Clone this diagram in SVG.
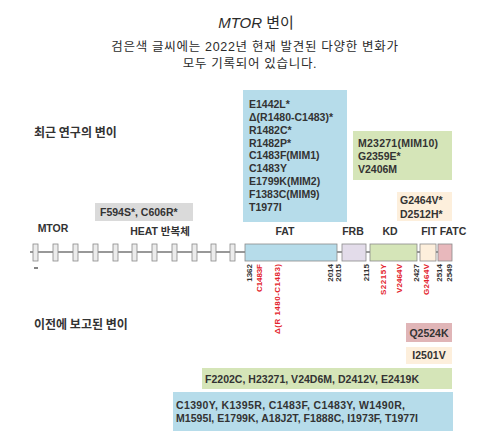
<svg xmlns="http://www.w3.org/2000/svg" width="499" height="444" viewBox="0 0 499 444">
<style>
.k{font-family:"Liberation Sans","Noto Sans CJK KR",sans-serif;fill:#2b2b2b}
.m{font-family:"Liberation Sans","Noto Sans CJK KR",sans-serif;font-weight:bold;font-size:10.5px;fill:#333}
.h{font-family:"Noto Sans CJK KR",sans-serif;font-weight:bold;font-size:12px;fill:#333}
.d{font-family:"Liberation Sans","Noto Sans CJK KR",sans-serif;font-weight:bold;font-size:10.5px;fill:#333;text-anchor:middle}
.n{font-family:"Liberation Sans",sans-serif;font-weight:bold;font-size:8px;fill:#333;text-anchor:end}
.r{font-family:"Liberation Sans",sans-serif;font-weight:bold;font-size:8px;fill:#e3232c;text-anchor:end}
.rep{fill:#ececec;stroke:#8a8a8a;stroke-width:0.8}
.dom{stroke:#8a8a8a;stroke-width:0.8}
</style>
<rect width="499" height="444" fill="#fff"/>
<g id="title">
<text x="256" y="28" text-anchor="middle" class="k" font-size="15"><tspan font-style="italic">MTOR</tspan> 변이</text>
<text x="255" y="51" text-anchor="middle" class="k" font-size="12.5" letter-spacing="0.7">검은색 글씨에는 2022년 현재 발견된 다양한 변화가</text>
<text x="250" y="67.5" text-anchor="middle" class="k" font-size="12.5" letter-spacing="0.7">모두 기록되어 있습니다.</text>
</g>
<g id="recent-label"><text x="34" y="137" class="h">최근 연구의 변이</text></g>
<g id="prior-label"><text x="34" y="329" class="h">이전에 보고된 변이</text></g>
<g id="recent-fat">
<rect x="243" y="90" width="104" height="132" fill="#b6dcea"/>
<text class="m" x="249" y="108">E1442L*</text>
<text class="m" x="249" y="121">Δ(R1480-C1483)*</text>
<text class="m" x="249" y="134">R1482C*</text>
<text class="m" x="249" y="147">R1482P*</text>
<text class="m" x="249" y="159">C1483F(MIM1)</text>
<text class="m" x="249" y="172">C1483Y</text>
<text class="m" x="249" y="185">E1799K(MIM2)</text>
<text class="m" x="249" y="198">F1383C(MIM9)</text>
<text class="m" x="249" y="211">T1977I</text>
</g>
<g id="recent-kd">
<rect x="353" y="131" width="99" height="49" fill="#d5e5b8"/>
<text class="m" x="358" y="147" textLength="80" lengthAdjust="spacing">M23271(MIM10)</text>
<text class="m" x="358" y="160">G2359E*</text>
<text class="m" x="358" y="173">V2406M</text>
</g>
<g id="recent-fit">
<rect x="397" y="192" width="55" height="29" fill="#fdefdc"/>
<text class="m" x="400" y="204">G2464V*</text>
<text class="m" x="400" y="218">D2512H*</text>
</g>
<g id="recent-heat">
<rect x="95" y="203" width="98" height="18" fill="#dadada"/>
<text class="m" x="100" y="216">F594S*, C606R*</text>
</g>
<g id="labels">
<text class="d" x="53" y="232">MTOR</text>
<text class="d" x="160" y="235">HEAT 반복체</text>
<text class="d" x="285" y="235">FAT</text>
<text class="d" x="353" y="235">FRB</text>
<text class="d" x="390" y="235">KD</text>
<text class="d" x="429" y="235">FIT</text>
<text class="d" x="453" y="235">FATC</text>
</g>
<g id="gene">
<line x1="30" y1="252" x2="452" y2="252" stroke="#333" stroke-width="1.2"/>
<line x1="34" y1="268" x2="38" y2="268" stroke="#333" stroke-width="1.2"/>
<rect class="rep" x="33" y="244" width="5" height="17"/>
<rect class="rep" x="53" y="244" width="5" height="17"/>
<rect class="rep" x="73" y="244" width="5" height="17"/>
<rect class="rep" x="93" y="244" width="5" height="17"/>
<rect class="rep" x="113" y="244" width="5" height="17"/>
<rect class="rep" x="132" y="244" width="5" height="17"/>
<rect class="rep" x="152" y="244" width="5" height="17"/>
<rect class="rep" x="172" y="244" width="5" height="17"/>
<rect class="rep" x="192" y="244" width="5" height="17"/>
<rect class="rep" x="211" y="244" width="5" height="17"/>
<rect class="rep" x="230" y="244" width="5" height="17"/>
<rect id="fat" class="dom" x="245" y="244" width="92" height="17" fill="#b6dcea"/>
<rect id="frb" class="dom" x="342" y="244" width="24" height="17" fill="#e3dcea"/>
<rect id="kd" class="dom" x="370" y="244" width="47" height="17" fill="#d5e5b8"/>
<rect id="fit" class="dom" x="420" y="244" width="16" height="17" fill="#fdefdc"/>
<rect id="fatc" class="dom" x="438" y="244" width="14" height="17" fill="#e8b8bc"/>
</g>
<g id="positions">
<text class="n" transform="translate(252,264) rotate(-90)">1362</text>
<text class="r" transform="translate(262,264) rotate(-90)" textLength="28" lengthAdjust="spacing">C1483F</text>
<text class="r" transform="translate(280,264) rotate(-90)" textLength="70" lengthAdjust="spacing">Δ(R 1480-C1483)</text>
<text class="n" transform="translate(333,264) rotate(-90)">2014</text>
<text class="n" transform="translate(341,264) rotate(-90)">2015</text>
<text class="n" transform="translate(369,264) rotate(-90)">2115</text>
<text class="r" transform="translate(386,264) rotate(-90)" textLength="31" lengthAdjust="spacing">S2215Y</text>
<text class="r" transform="translate(402,264) rotate(-90)" textLength="29" lengthAdjust="spacing">V2464V</text>
<text class="n" transform="translate(419,264) rotate(-90)">2427</text>
<text class="r" transform="translate(429,264) rotate(-90)" textLength="31" lengthAdjust="spacing">G2464V</text>
<text class="n" transform="translate(442,264) rotate(-90)">2514</text>
<text class="n" transform="translate(452,264) rotate(-90)">2549</text>
</g>
<g id="prior-fatc">
<rect x="406" y="323" width="46" height="19" fill="#e0b5b7"/>
<text class="m" x="429" y="336.5" text-anchor="middle">Q2524K</text>
</g>
<g id="prior-fit">
<rect x="406" y="347" width="46" height="17" fill="#fdefdc"/>
<text class="m" x="429" y="359" text-anchor="middle">I2501V</text>
</g>
<g id="prior-kd">
<rect x="202" y="368" width="250" height="21" fill="#d5e5b8"/>
<text class="m" x="205" y="382.5" textLength="214" lengthAdjust="spacing">F2202C, H23271, V24D6M, D2412V, E2419K</text>
</g>
<g id="prior-fat">
<rect x="173" y="392" width="280" height="39" fill="#b6dcea"/>
<text class="m" x="176" y="408.5" textLength="229" lengthAdjust="spacing">C1390Y, K1395R, C1483F, C1483Y, W1490R,</text>
<text class="m" x="176" y="421.5" textLength="242" lengthAdjust="spacing">M1595I, E1799K, A18J2T, F1888C, I1973F, T1977I</text>
</g>
</svg>
